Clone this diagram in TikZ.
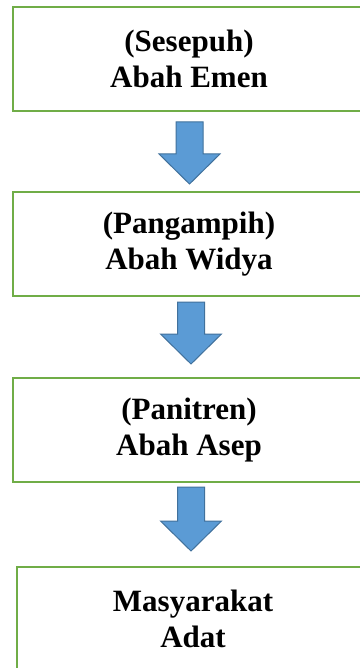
\documentclass[tikz,border=0pt]{standalone}
\usepackage{fontspec}
\setmainfont{Liberation Serif}
\usetikzlibrary{calc}
\definecolor{boxgreen}{HTML}{70AD47}
\definecolor{arrowfill}{HTML}{5B9BD5}
\definecolor{arrowline}{HTML}{41719C}
\tikzset{
  box/.style={draw=boxgreen, line width=2.3pt, fill=white, minimum width=352pt, minimum height=104pt,
    align=center, inner sep=0pt, font=\fontsize{31}{36}\selectfont\bfseries},
  blockarrow/.style={fill=arrowfill, draw=arrowline, line width=1pt, line join=miter}
}
\newcommand{\myblockarrow}[2]{%
  \filldraw[blockarrow] ($(#1)+(-13.5,0)$) -- ($(#1)+(13.5,0)$) -- ($(#2)+(13.5,30)$) -- ($(#2)+(30.5,30)$)
    -- (#2) -- ($(#2)+(-30.5,30)$) -- ($(#2)+(-13.5,30)$) -- cycle;}
\begin{document}
\begin{tikzpicture}[x=1pt,y=1pt]
\fill[white] (0,0) rectangle (359,-668);
\useasboundingbox (0,0) rectangle (359,-668);
\node[box] (b1) at (189,-59) {(Sesepuh)\\Abah Emen};
\node[box] (b2) at (189,-244) {(Pangampih)\\Abah Widya};
\node[box] (b3) at (189,-430) {(Panitren)\\Abah Asep};
\node[box] (b4) at (193,-619) {Masyarakat\\Adat};
\coordinate (a1t) at (189.5,-122);
\coordinate (a1b) at (189.5,-184);
\coordinate (a2t) at (191,-302);
\coordinate (a2b) at (191,-364);
\coordinate (a3t) at (191,-487);
\coordinate (a3b) at (191,-551);
\myblockarrow{a1t}{a1b}
\myblockarrow{a2t}{a2b}
\myblockarrow{a3t}{a3b}
\end{tikzpicture}
\end{document}
